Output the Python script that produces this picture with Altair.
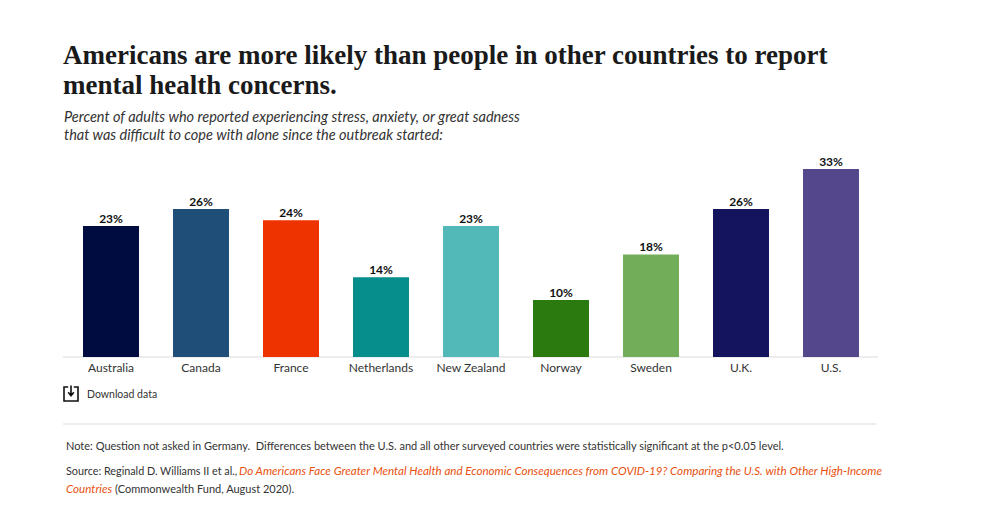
import altair as alt
import pandas as pd

countries = ["Australia", "Canada", "France", "Netherlands", "New Zealand", "Norway", "Sweden", "U.K.", "U.S."]
values = [23, 26, 24, 14, 23, 10, 18, 26, 33]
colors = ["#000b3f", "#1f4e79", "#ee3200", "#068e8c", "#52b8b8", "#2a7a10", "#72ae5a", "#14145e", "#54478c"]
title_lines = ["Americans are more likely than people in other countries to report", "mental health concerns."]
subtitle_lines = ["Percent of adults who reported experiencing stress, anxiety, or great sadness",
                  "that was difficult to cope with alone since the outbreak started:"]
download_label = "Download data"
note_text = "Note: Question not asked in Germany.\u00a0 Differences between the U.S. and all other surveyed countries were statistically significant at the p<0.05 level."
source_a = "Source: Reginald D. Williams II et al.,"
source_b = "Do Americans Face Greater Mental Health and Economic Consequences from COVID-19? Comparing the U.S. with Other High-Income"
source_c = "Countries"
source_d = "(Commonwealth Fund, August 2020)."

SANS = "Lato"
SERIF = "Liberation Serif"
OFF = 8  # page margin


def txt(s, x, y, size, color="#333333", font=SANS, weight="normal", style="normal"):
    return alt.Chart(pd.DataFrame({"t": [s]})).mark_text(
        align="left", baseline="alphabetic", font=font, fontSize=size, color=color,
        fontWeight=weight, fontStyle=style
    ).encode(x=alt.value(x - OFF), y=alt.value(y - OFF), text="t:N")


def hline(x1, x2, y, color="#dcdcdc", w=1.2):
    return alt.Chart(pd.DataFrame({"a": [0]})).mark_rule(color=color, strokeWidth=w).encode(
        x=alt.value(x1 - OFF), x2=alt.value(x2 - OFF), y=alt.value(y - OFF))


df = pd.DataFrame({"country": countries, "value": values, "label": [f"{v}%" for v in values]})

x = alt.X("country:N", sort=countries, title=None,
          scale=alt.Scale(range=[66 - OFF, 876 - OFF], paddingInner=0.378, paddingOuter=0.189),
          axis=alt.Axis(labelAngle=0, ticks=False, domain=False, grid=False, labelFont=SANS,
                        labelFontSize=12, labelColor="#333333", labelPadding=5))
y = alt.Y("value:Q", axis=None, scale=alt.Scale(domain=[0, 33], range=[357 - OFF, 169 - OFF]))
color = alt.Color("country:N", scale=alt.Scale(domain=countries, range=colors), legend=None)

bars = alt.Chart(df).mark_bar().encode(x=x, y=y, color=color)
labels = alt.Chart(df).mark_text(baseline="alphabetic", dy=-3, font=SANS, fontSize=12,
                                 fontWeight="bold", color="#111111").encode(x=x, y=y, text="label:N")

icon_path = "M-0.4,-1 H-1 V1 H1 V-1 H0.4 M0,-1.2 V0.2 M-0.4,-0.25 L0,0.25 L0.4,-0.25"
icon = alt.Chart(pd.DataFrame({"a": [0]})).mark_point(
    shape=icon_path, size=196, filled=False, stroke="#111111", strokeWidth=1.6, opacity=1
).encode(x=alt.value(71 - OFF), y=alt.value(394 - OFF))

layers = [
    hline(63, 878, 357),
    bars, labels,
    txt(title_lines[0], 63, 64, 27, "#1a1a1a", SERIF, "bold"),
    txt(title_lines[1], 63, 94, 27, "#1a1a1a", SERIF, "bold"),
    txt(subtitle_lines[0], 64, 122, 14.5, "#333333", SANS, "normal", "italic"),
    txt(subtitle_lines[1], 64, 140, 14.5, "#333333", SANS, "normal", "italic"),
    icon,
    txt(download_label, 87, 398, 10.5, "#333333"),
    hline(63, 876, 424),
    txt(note_text, 66, 450, 11, "#333333"),
    txt(source_a, 66, 475, 10.8, "#333333"),
    txt(source_b, 239, 475, 11.6, "#e8510e", SANS, "normal", "italic"),
    txt(source_c, 66, 493, 11.6, "#e8510e", SANS, "normal", "italic"),
    txt(source_d, 115, 493, 11, "#333333"),
]

chart = alt.layer(*layers).properties(
    width=984, height=349,
    padding={"left": 0, "top": 0, "right": 0, "bottom": 156},
    autosize=alt.AutoSizeParams(type="none"), background="white"
).configure_view(stroke=None)

chart.save("out.html", embed_options={"renderer": "svg", "actions": False})
